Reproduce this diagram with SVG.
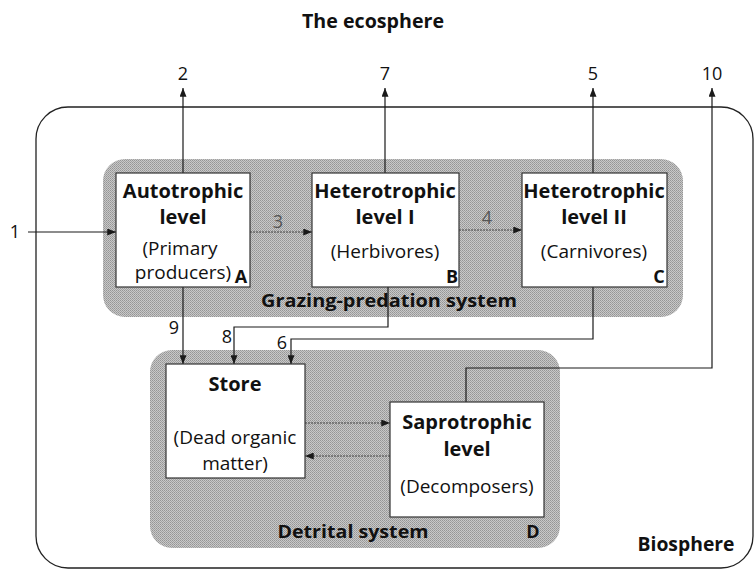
<svg xmlns="http://www.w3.org/2000/svg" width="755" height="570" viewBox="0 0 755 570">
<defs>
<marker id="ah" viewBox="0 0 10 8" refX="10" refY="4" markerWidth="9" markerHeight="7" markerUnits="userSpaceOnUse" orient="auto">
<path d="M0,0 L10,4 L0,8 Z" fill="#1a1a1a"/>
</marker>
<pattern id="ht" width="2" height="2" patternUnits="userSpaceOnUse">
<rect width="2" height="2" fill="#c8c8c8"/>
<rect width="1" height="1" fill="#959595"/>
<rect x="1" y="1" width="1" height="1" fill="#a2a2a2"/>
</pattern>
</defs>
<style>
text{font-family:"Open Sans","Liberation Sans",sans-serif;fill:#111}
.b{font-weight:bold;font-size:20px;text-anchor:middle}
.l{font-weight:bold;font-size:18px;text-anchor:middle}
.t{font-size:19px;text-anchor:middle}
.n{font-size:18px;text-anchor:middle}
.box{fill:#fff;stroke:#333;stroke-width:1.2}
.sys{fill:url(#ht);stroke:none}
.c{fill:none;stroke:#1a1a1a;stroke-width:1.2}
.cg{fill:none;stroke:#444;stroke-width:1.2;stroke-dasharray:2 1}
</style>
<rect width="755" height="570" fill="#fff"/>
<text x="373" y="28" style="font-weight:bold;font-size:19px;text-anchor:middle" textLength="142" lengthAdjust="spacingAndGlyphs">The ecosphere</text>
<g id="biosphere">
<rect x="36" y="107" width="717" height="461" rx="32" fill="none" stroke="#222" stroke-width="1.3"/>
<text x="686" y="551" class="b" textLength="97" lengthAdjust="spacingAndGlyphs">Biosphere</text>
</g>
<g id="grazing-system">
<rect x="103" y="159" width="580" height="158" rx="22" class="sys"/>
<text x="389" y="307" class="b" style="font-size:17px" textLength="256" lengthAdjust="spacingAndGlyphs">Grazing-predation system</text>
</g>
<g id="detrital-system">
<rect x="150" y="350" width="410" height="198" rx="22" class="sys"/>
<text x="353" y="538" class="b" style="font-size:18px" textLength="151" lengthAdjust="spacingAndGlyphs">Detrital system</text>
<text x="533" y="538" class="l">D</text>
</g>
<g id="connectors">
<path class="c" d="M28,232 H116" marker-end="url(#ah)"/>
<path class="c" d="M183,173 V88" marker-end="url(#ah)"/>
<path class="c" d="M385,173 V88" marker-end="url(#ah)"/>
<path class="c" d="M593,173 V88" marker-end="url(#ah)"/>
<path class="cg" d="M250,232 H312" marker-end="url(#ah)"/>
<path class="cg" d="M459,230 H522" marker-end="url(#ah)"/>
<path class="c" d="M183,287 V364" marker-end="url(#ah)"/>
<path class="c" d="M388,287 V327 H234 V364" marker-end="url(#ah)"/>
<path class="c" d="M593,287 V339 H291 V364" marker-end="url(#ah)"/>
<path class="c" d="M466,402 V368 H712 V88" marker-end="url(#ah)"/>
<path class="cg" d="M305,423 H390" marker-end="url(#ah)"/>
<path class="cg" d="M390,456 H305" marker-end="url(#ah)"/>
<text x="15" y="238" class="n">1</text>
<text x="183" y="80" class="n">2</text>
<text x="278" y="228" class="n" style="fill:#555">3</text>
<text x="487" y="224" class="n" style="fill:#555">4</text>
<text x="593" y="80" class="n">5</text>
<text x="282" y="349" class="n">6</text>
<text x="385" y="80" class="n">7</text>
<text x="227" y="343" class="n">8</text>
<text x="174" y="334" class="n">9</text>
<text x="712" y="80" class="n">10</text>
</g>
<g id="node-A">
<rect x="116" y="173" width="134" height="114" class="box"/>
<text x="183" y="198" class="b">Autotrophic</text>
<text x="183" y="224" class="b">level</text>
<text x="180" y="255" class="t">(Primary</text>
<text x="183" y="279" class="t">producers)</text>
<text x="241" y="283" class="l">A</text>
</g>
<g id="node-B">
<rect x="312" y="173" width="147" height="114" class="box"/>
<text x="385" y="198" class="b">Heterotrophic</text>
<text x="385" y="224" class="b">level I</text>
<text x="385" y="258" class="t">(Herbivores)</text>
<text x="452" y="283" class="l">B</text>
</g>
<g id="node-C">
<rect x="522" y="173" width="145" height="114" class="box"/>
<text x="594" y="198" class="b">Heterotrophic</text>
<text x="594" y="224" class="b">level II</text>
<text x="594" y="258" class="t">(Carnivores)</text>
<text x="659" y="283" class="l">C</text>
</g>
<g id="node-store">
<rect x="166" y="364" width="139" height="114" class="box"/>
<text x="235" y="391" class="b">Store</text>
<text x="235" y="444" class="t">(Dead organic</text>
<text x="235" y="470" class="t">matter)</text>
</g>
<g id="node-D">
<rect x="390" y="402" width="154" height="115" class="box"/>
<text x="467" y="429" class="b">Saprotrophic</text>
<text x="467" y="456" class="b">level</text>
<text x="467" y="493" class="t">(Decomposers)</text>
</g>
</svg>
